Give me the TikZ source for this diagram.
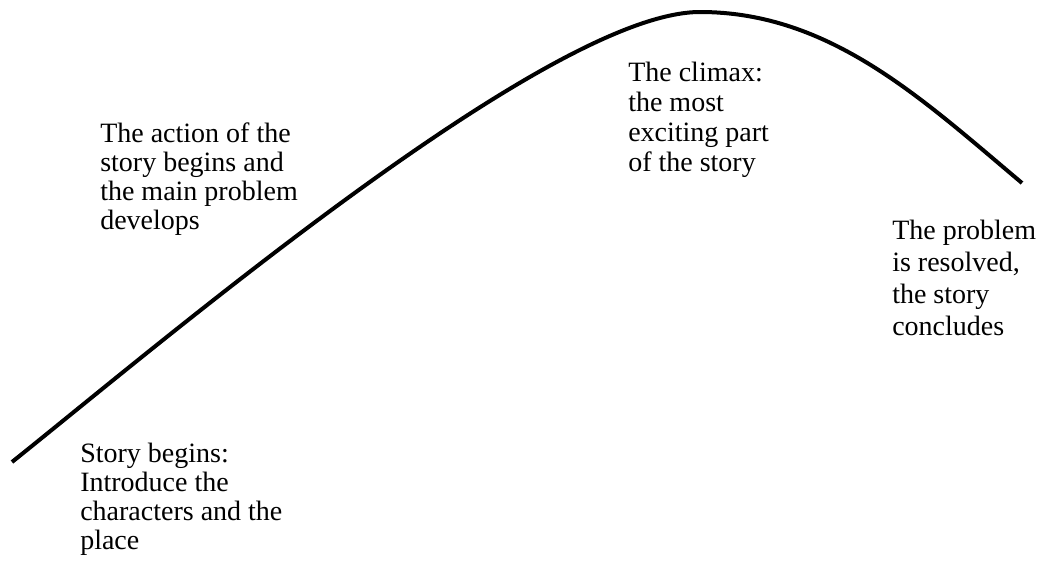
\documentclass[tikz,border=0pt]{standalone}
\usepackage{fontspec}
\setmainfont{Liberation Serif}

\begin{document}
\begin{tikzpicture}[x=0.75pt,y=-0.75pt,
    txt/.style={align=left, inner sep=0pt, anchor=base west,
      font=\fontsize{21}{#1}\selectfont},
    txt/.default=22.5pt]
    \useasboundingbox (0,0) rectangle (1042,561);
    \coordinate (S) at (12,462);
    \coordinate (P) at (700,12);
    \coordinate (E) at (1022,183);
    \draw[line width=3pt] (S) .. controls (162,342) and (550,12) .. (P)
        .. controls (830,12) and (922,99) .. (E);
    % anchored at the baseline of the last line
    \node[txt=21.75pt] (begins) at (80,549) {Story begins:\\Introduce the\\characters and the\\place};
    \node[txt=21.75pt] (action) at (100,229) {The action of the\\story begins and\\the main problem\\develops};
    \node[txt] (climax) at (628,171) {The climax:\\the most\\exciting part\\of the story};
    \node[txt=24pt] (resolved) at (892,335) {The problem\\is resolved,\\the story\\concludes};
\end{tikzpicture}
\end{document}
